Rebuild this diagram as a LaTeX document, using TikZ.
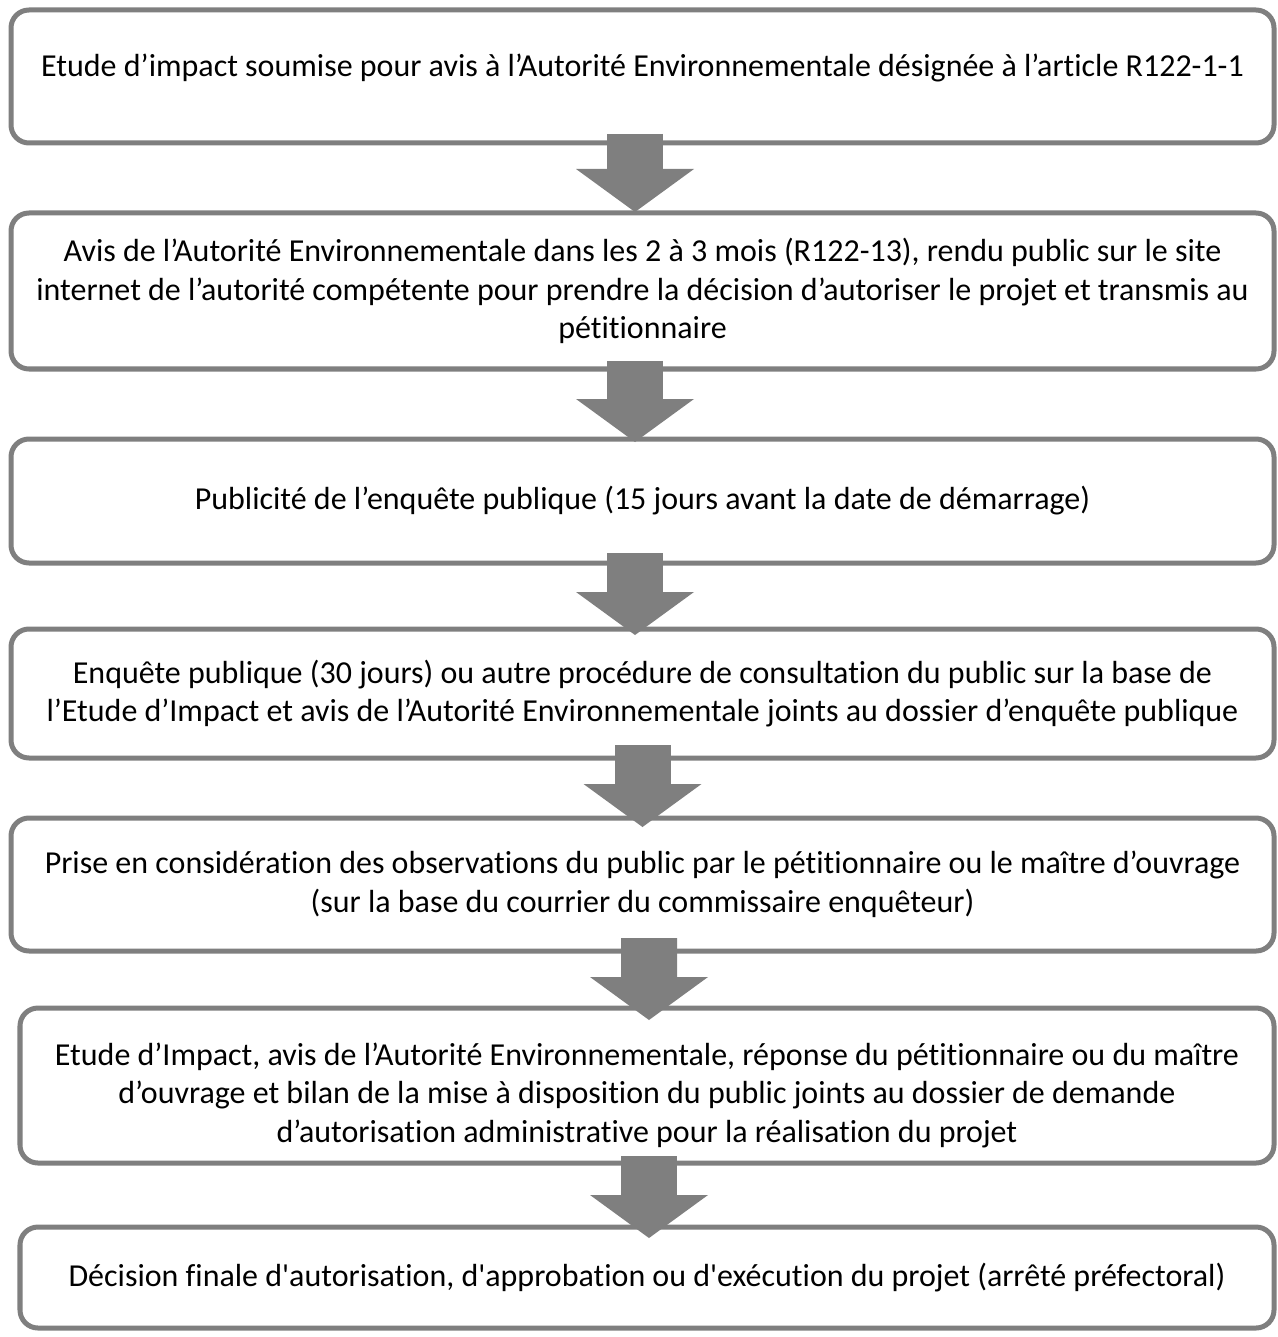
\documentclass[tikz,border=0pt]{standalone}
\usepackage{fontspec}
\setmainfont{Carlito}[Ligatures=NoCommon]
\usepackage{tikz}
\usetikzlibrary{arrows.meta,positioning}
\definecolor{boxgray}{HTML}{7F7F7F}
\tikzset{
  stage/.style={
    draw=boxgray, line width=0.1cm, rounded corners=0.36cm, fill=white,
    minimum width=25.26cm, align=center, inner sep=0pt,
    font=\fontsize{18.2pt}{21.9pt}\selectfont
  },
  flow/.style={
    draw=boxgray, line width=1.12cm,
    -{Triangle[width=2.36cm, length=0.86cm, line width=0pt]}
  },
}

\begin{document}
\begin{tikzpicture}
    \useasboundingbox (0,0) rectangle (25.54,-26.74);

    \node[stage, minimum height=2.66cm] (etude) at (12.85,-1.53)
      {\rule[-13pt]{0pt}{13pt}Etude d’impact soumise pour avis à l’Autorité Environnementale désignée à l’article R122-1-1};
    \node[stage, minimum height=3.12cm, below=1.30cm of etude] (avis)
      {Avis de l’Autorité Environnementale dans les 2 à 3 mois (R122-13), rendu public sur le site\\
       internet de l’autorité compétente pour prendre la décision d’autoriser le projet et transmis au\\
       pétitionnaire};
    \node[stage, minimum height=2.48cm, below=1.30cm of avis] (pub)
      {Publicité de l’enquête publique (15 jours avant la date de démarrage)};
    \node[stage, minimum height=2.58cm, below=1.22cm of pub] (enq)
      {Enquête publique (30 jours) ou autre procédure de consultation du public sur la base de\\
       l’Etude d’Impact et avis de l’Autorité Environnementale joints au dossier d’enquête publique};
    \node[stage, minimum height=2.66cm, below=1.10cm of enq] (obs)
      {Prise en considération des observations du public par le pétitionnaire ou le maître d’ouvrage\\
       (sur la base du courrier du commissaire enquêteur)};
    \node[stage, minimum width=25.08cm, minimum height=3.10cm, below=1.04cm of obs, xshift=0.09cm] (dossier)
      {\rule{0pt}{24pt}Etude d’Impact, avis de l’Autorité Environnementale, réponse du pétitionnaire ou du maître\\
       d’ouvrage et bilan de la mise à disposition du public joints au dossier de demande\\
       d’autorisation administrative pour la réalisation du projet};
    \node[stage, minimum width=25.08cm, minimum height=2.02cm, below=1.18cm of dossier] (decision)
      {Décision finale d\textquotesingle autorisation, d\textquotesingle approbation ou d\textquotesingle exécution du projet (arrêté préfectoral)};

    \draw[flow] ([xshift=-0.15cm, yshift=0.23cm]etude.south) -- ([xshift=-0.15cm, yshift=-0.03cm]avis.north);
    \draw[flow] ([xshift=-0.15cm, yshift=0.21cm]avis.south) -- ([xshift=-0.15cm, yshift=-0.11cm]pub.north);
    \draw[flow] ([xshift=-0.15cm, yshift=0.25cm]pub.south) -- ([xshift=-0.15cm, yshift=-0.17cm]enq.north);
    \draw[flow] ([yshift=0.31cm]enq.south) -- ([yshift=-0.23cm]obs.north);
    \draw[flow] ([xshift=0.13cm, yshift=0.31cm]obs.south) -- ([xshift=0.04cm, yshift=-0.29cm]dossier.north);
    \draw[flow] ([xshift=0.04cm, yshift=0.19cm]dossier.south) -- ([xshift=0.04cm, yshift=-0.27cm]decision.north);
  \end{tikzpicture}
\end{document}
